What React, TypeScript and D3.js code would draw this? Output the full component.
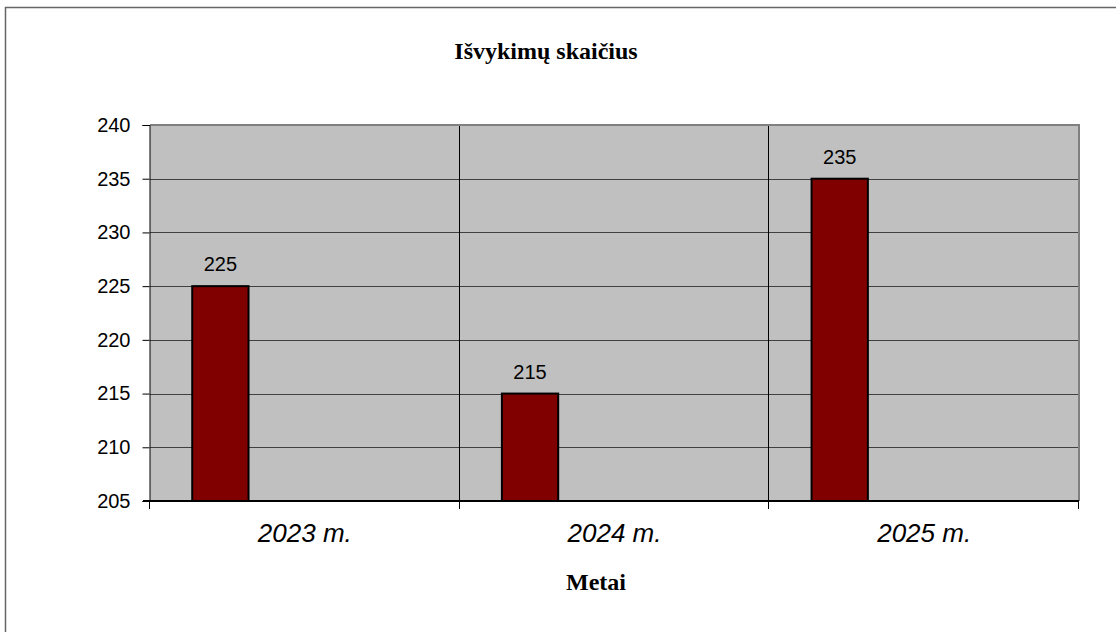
import React, { useEffect, useRef } from 'react';
import * as d3 from 'd3';

const categories = ['2023 m.', '2024 m.', '2025 m.'];
const values = [225, 215, 235];
const yTicks = [205, 210, 215, 220, 225, 230, 235, 240];
// Excel-style cluster: 4 series slots, only the first one has data
const seriesSlots = ['s1', 's2', 's3', 's4'];
const title = 'Išvykimų skaičius';
const xTitle = 'Metai';

export default function App() {
  const svgRef = useRef<SVGSVGElement>(null);

  useEffect(() => {
    document.body.style.margin = '0';
    if (!svgRef.current) return;

    const width = 1116;
    const height = 632;
    const plot = { left: 150, top: 125, right: 1079, bottom: 501 };

    const svg = d3.select(svgRef.current);
    svg.selectAll('*').remove();
    svg.attr('width', width).attr('height', height);

    // outer chart border (cropped on right/bottom)
    svg.append('rect')
      .attr('x', 5.5).attr('y', 7.5)
      .attr('width', width + 20).attr('height', height + 20)
      .attr('fill', '#fff')
      .attr('stroke', '#666')
      .attr('stroke-width', 1.5);

    const x = d3.scaleBand<string>()
      .domain(categories)
      .range([plot.left, plot.right])
      .padding(0);

    const inner = d3.scaleBand<string>()
      .domain(seriesSlots)
      .range([0, x.bandwidth()])
      .paddingInner(0)
      .paddingOuter(0.75);

    const y = d3.scaleLinear()
      .domain([205, 240])
      .range([plot.bottom, plot.top]);

    // plot area
    svg.append('rect')
      .attr('x', plot.left).attr('y', plot.top)
      .attr('width', plot.right - plot.left)
      .attr('height', plot.bottom - plot.top)
      .attr('fill', '#c0c0c0');

    // horizontal gridlines
    svg.append('g')
      .selectAll('line')
      .data(yTicks.filter(t => t !== 205 && t !== 240))
      .enter().append('line')
      .attr('x1', plot.left).attr('x2', plot.right)
      .attr('y1', d => Math.round(y(d)) + 0.5)
      .attr('y2', d => Math.round(y(d)) + 0.5)
      .attr('stroke', '#404040')
      .attr('stroke-width', 1);

    // vertical gridlines at category boundaries
    const boundaries = categories.slice(1).map(c => x(c) as number);
    svg.append('g')
      .selectAll('line')
      .data(boundaries)
      .enter().append('line')
      .attr('x1', d => Math.round(d) - 0.5).attr('x2', d => Math.round(d) - 0.5)
      .attr('y1', plot.top).attr('y2', plot.bottom + 8)
      .attr('stroke', '#000')
      .attr('stroke-width', 1);

    // top & right plot border
    svg.append('path')
      .attr('d', `M${plot.left},${plot.top} H${plot.right} V${plot.bottom}`)
      .attr('fill', 'none')
      .attr('stroke', '#808080')
      .attr('stroke-width', 2);

    // bars
    svg.append('g')
      .selectAll('rect')
      .data(values)
      .enter().append('rect')
      .attr('x', (d, i) => (x(categories[i]) as number) + (inner('s1') as number))
      .attr('y', d => y(d))
      .attr('width', inner.bandwidth())
      .attr('height', d => y(205) - y(d))
      .attr('fill', '#800000')
      .attr('stroke', '#000')
      .attr('stroke-width', 2);

    // data labels
    svg.append('g')
      .selectAll('text')
      .data(values)
      .enter().append('text')
      .attr('x', (d, i) => (x(categories[i]) as number) + (inner('s1') as number) + inner.bandwidth() / 2)
      .attr('y', d => y(d) - 15)
      .attr('text-anchor', 'middle')
      .attr('font-family', 'Arial, "Liberation Sans", sans-serif')
      .attr('font-size', 20)
      .attr('fill', '#000')
      .text(d => String(d));

    // y axis
    const yAxis = svg.append('g')
      .attr('transform', `translate(${plot.left - 0.5},0)`)
      .call(d3.axisLeft(y).tickValues(yTicks).tickSize(7).tickPadding(12).tickFormat(d3.format('d')));
    yAxis.select('.domain').attr('stroke', '#000');
    yAxis.selectAll('.tick line').attr('stroke', '#000');
    yAxis.selectAll('.tick text')
      .attr('font-family', 'Arial, "Liberation Sans", sans-serif')
      .attr('font-size', 20)
      .attr('fill', '#000');
    yAxis.attr('font-size', null);

    // x axis line + ticks
    svg.append('line')
      .attr('x1', plot.left - 7).attr('x2', plot.right)
      .attr('y1', plot.bottom).attr('y2', plot.bottom)
      .attr('stroke', '#000')
      .attr('stroke-width', 2);
    svg.append('g')
      .selectAll('line')
      .data([plot.left, ...boundaries, plot.right])
      .enter().append('line')
      .attr('x1', d => Math.round(d) - 0.5).attr('x2', d => Math.round(d) - 0.5)
      .attr('y1', plot.bottom).attr('y2', plot.bottom + 8)
      .attr('stroke', '#000')
      .attr('stroke-width', 1);

    // x labels
    svg.append('g')
      .selectAll('text')
      .data(categories)
      .enter().append('text')
      .attr('x', d => (x(d) as number) + x.bandwidth() / 2)
      .attr('y', 542)
      .attr('text-anchor', 'middle')
      .attr('font-family', 'Arial, "Liberation Sans", sans-serif')
      .attr('font-style', 'italic')
      .attr('font-size', 26)
      .attr('fill', '#000')
      .text(d => d);

    // titles
    svg.append('text')
      .attr('x', 546).attr('y', 59)
      .attr('text-anchor', 'middle')
      .attr('font-family', '"Times New Roman", "Liberation Serif", serif')
      .attr('font-weight', 'bold')
      .attr('font-size', 24)
      .text(title);

    svg.append('text')
      .attr('x', 596).attr('y', 590)
      .attr('text-anchor', 'middle')
      .attr('font-family', '"Times New Roman", "Liberation Serif", serif')
      .attr('font-weight', 'bold')
      .attr('font-size', 24)
      .text(xTitle);
  }, []);

  return <svg ref={svgRef} style={{ display: 'block' }}></svg>;
}
